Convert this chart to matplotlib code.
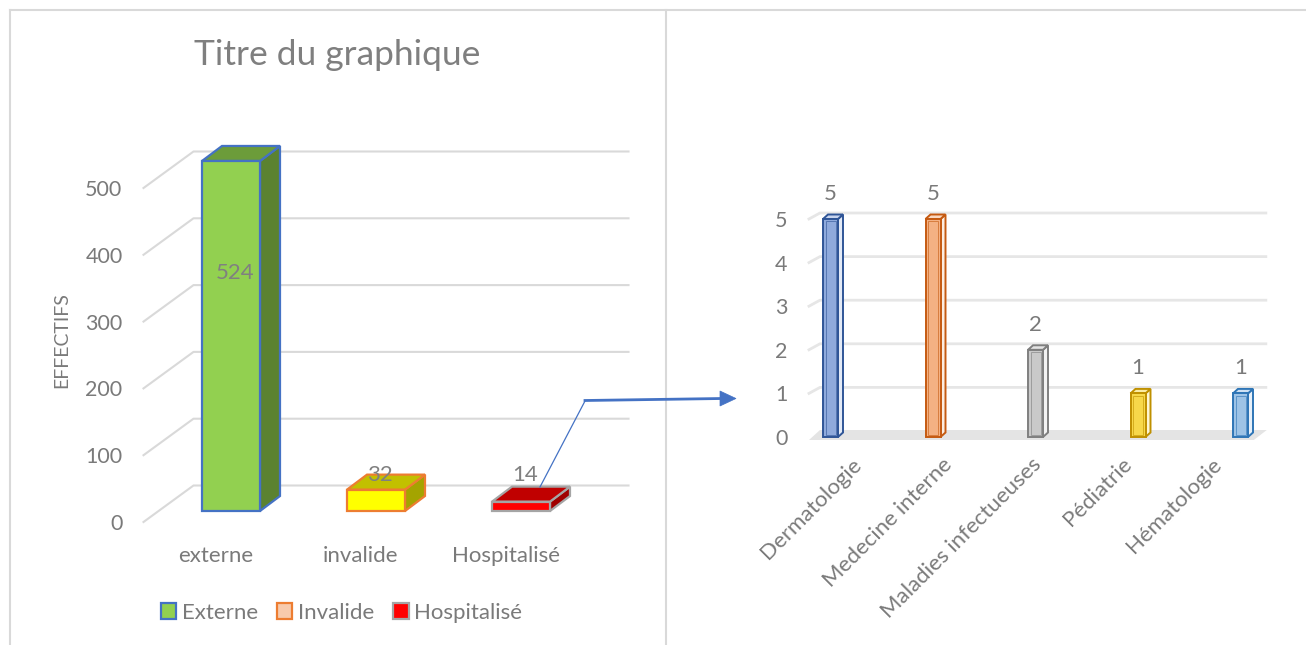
import matplotlib
matplotlib.use("Agg")
import matplotlib.pyplot as plt
from matplotlib.patches import Polygon, Patch
from matplotlib.lines import Line2D

plt.rcParams['font.family'] = ['Lato', 'DejaVu Sans']

# ---------------- data ----------------
left_title = "Titre du graphique"
left_ylabel = "EFFECTIFS"
left_categories = ["externe", "invalide", "Hospitalisé"]
left_values = [524, 32, 14]
left_legend_labels = ["Externe", "Invalide", "Hospitalisé"]
left_yticks = [0, 100, 200, 300, 400, 500]

right_categories = ["Dermatologie", "Medecine interne", "Maladies infectueuses",
                    "Pédiatrie", "Hématologie"]
right_values = [5, 5, 2, 1, 1]
right_yticks = [0, 1, 2, 3, 4, 5]

# ---------------- styles ----------------
left_front = ["#92D050", "#FFFF00", "#FF0000"]
left_top = ["#6C9C3A", "#C2C000", "#C00000"]
left_side = ["#5B8230", "#A4A400", "#A00000"]
left_edge = ["#4472C4", "#ED7D31", "#A5A5A5"]
legend_face = ["#92D050", "#F8CBAD", "#FF0000"]
legend_edge = ["#4472C4", "#ED7D31", "#A5A5A5"]

right_face = ["#8FAADC", "#F4B183", "#C9C9C9", "#F7D84A", "#9DC3E6"]
right_edge = ["#2F5597", "#C55A11", "#7F7F7F", "#BF9000", "#2E75B6"]

TC = "#7A7A7A"
GRID = "#D9D9D9"
W, H = 1306, 645
PT = 72 / 100.0  # points per pixel

fig = plt.figure(figsize=(W / 100, H / 100), dpi=100)


def lighten(c, f):
    r, g, b = matplotlib.colors.to_rgb(c)
    return (r + (1 - r) * f, g + (1 - g) * f, b + (1 - b) * f)


def make_off(ppx, ppy):
    def off(x, y, dxp, dyp):
        return (x + dxp / ppx, y + dyp / ppy)
    return off


# ================= LEFT CHART =================
L_ppx, L_ppy = 145.0, 0.668
axL = fig.add_axes([143.5 / W, 123 / H, 3 * L_ppx / W, 600 * L_ppy / H])
axL.set_xlim(-0.5, 2.5)
axL.set_ylim(0, 600)
axL.patch.set_visible(False)
for s in axL.spines.values():
    s.set_visible(False)
offL = make_off(L_ppx, L_ppy)

# gridlines with 3D depth
for v in left_yticks:
    p0 = (-0.5, v)
    p1 = offL(-0.5, v, 50, 36.5)
    p2 = offL(2.5, v, 50, 36.5)
    axL.plot([p0[0], p1[0], p2[0]], [p0[1], p1[1], p2[1]], color=GRID,
             lw=1.5, clip_on=False, zorder=1)

# 3D bars
for i, v in enumerate(left_values):
    xc, y0 = offL(i, 0, 15, 11)
    x0, x1 = xc - 0.2, xc + 0.2
    y1 = y0 + v
    front = [(x0, y0), (x1, y0), (x1, y1), (x0, y1)]
    side = [(x1, y0), offL(x1, y0, 20, 15), offL(x1, y1, 20, 15), (x1, y1)]
    top = [(x0, y1), (x1, y1), offL(x1, y1, 20, 15), offL(x0, y1, 20, 15)]
    for poly, fc in ((side, left_side[i]), (top, left_top[i]), (front, left_front[i])):
        axL.add_patch(Polygon(poly, closed=True, facecolor=fc, edgecolor=left_edge[i],
                              lw=1.6, joinstyle='miter', clip_on=False, zorder=3))
    hpx = v * L_ppy
    lab_px = hpx * 0.68 if hpx > 100 else max(hpx + 12, 36)
    axL.annotate(str(v), xy=(xc, y0), xytext=(4 * PT, lab_px * PT),
                 textcoords='offset points', ha='center', va='center',
                 fontsize=16, color="#808080", zorder=5, annotation_clip=False)

axL.set_yticks(left_yticks)
axL.set_xticks(range(len(left_categories)))
axL.set_xticklabels(left_categories)
axL.tick_params(axis='y', length=0, pad=21 * PT, labelsize=15.5, labelcolor=TC)
axL.tick_params(axis='x', length=0, pad=24 * PT, labelsize=16, labelcolor=TC)

fig.text(337 / W, 1 - 55 / H, left_title, ha='center', va='center',
         fontsize=25.5, color="#7F7F7F")
fig.text(62 / W, 1 - 340 / H, left_ylabel, ha='center', va='center',
         rotation=90, fontsize=14, color=TC)

handles = [Patch(facecolor=f, edgecolor=e, lw=1.6) for f, e in zip(legend_face, legend_edge)]
fig.legend(handles, left_legend_labels, loc='center', bbox_to_anchor=(341.5 / W, 1 - 613 / H),
           ncol=3, frameon=False, fontsize=16, handlelength=0.7, handleheight=0.7,
           handletextpad=0.25, columnspacing=0.85, labelcolor=TC)

# ================= RIGHT CHART =================
R_ppx, R_ppy = 102.5, 43.6
axR = fig.add_axes([779.25 / W, 208 / H, 5 * R_ppx / W, 5.5 * R_ppy / H])
axR.set_xlim(-0.5, 4.5)
axR.set_ylim(0, 5.5)
axR.patch.set_visible(False)
for s in axR.spines.values():
    s.set_visible(False)
offR = make_off(R_ppx, R_ppy)

gx0, gx1 = -0.21, 4.13
floor = [offR(gx0, 0, 0, -3), offR(gx1, 0, 0, -3), offR(gx1, 0, 13, 7), offR(gx0, 0, 11, 7)]
axR.add_patch(Polygon(floor, closed=True, facecolor="#E4E4E4", edgecolor="none",
                      clip_on=False, zorder=1))
for v in right_yticks[1:]:
    p0 = (gx0, v)
    p1 = offR(gx0, v, 11, 6)
    p2 = offR(gx1 + 0.01, v, 11, 6)
    axR.plot([p0[0], p1[0], p2[0]], [p0[1], p1[1], p2[1]], color="#E6E6E6",
             lw=2, clip_on=False, zorder=1)

hw = 7.5 / R_ppx
for i, v in enumerate(right_values):
    x0, x1 = i - hw, i + hw
    y0, y1 = 0, v
    ec = right_edge[i]
    fc = right_face[i]
    front = [(x0, y0), (x1, y0), (x1, y1), (x0, y1)]
    side = [(x1, y0), offR(x1, y0, 5, 4.5), offR(x1, y1, 5, 4.5), (x1, y1)]
    top = [(x0, y1), (x1, y1), offR(x1, y1, 5, 4.5), offR(x0, y1, 5, 4.5)]
    for poly, f in ((side, lighten(fc, 0.75)), (top, lighten(fc, 0.5)), (front, fc)):
        axR.add_patch(Polygon(poly, closed=True, facecolor=f, edgecolor=ec, lw=1.4,
                              joinstyle='miter', clip_on=False, zorder=3))
    inner = [offR(x0, y0, 2.5, 2.5), offR(x1, y0, -2.5, 2.5), offR(x1, y1, -2.5, -2.5),
             offR(x0, y1, 2.5, -2.5)]
    axR.add_patch(Polygon(inner, closed=True, facecolor='none', edgecolor=ec, lw=0.7,
                          alpha=0.6, clip_on=False, zorder=4))
    axR.annotate(str(v), xy=(i, v), xytext=(0, 25 * PT), textcoords='offset points',
                 ha='center', va='center', fontsize=16, color=TC, annotation_clip=False)
    axR.annotate(right_categories[i], xy=(i, 0), xytext=((21 - 12.5 * i) * PT, -17 * PT),
                 textcoords='offset points', ha='right', va='top', rotation=45,
                 rotation_mode='anchor', fontsize=16, color=TC, annotation_clip=False)

axR.set_xticks([])
axR.set_yticks(right_yticks)
axR.tick_params(axis='y', length=0, pad=-8 * PT, labelsize=15.5, labelcolor=TC)

# ================= frame lines & connector arrow =================
def fline(xs, ys, **kw):
    fig.add_artist(Line2D([x / W for x in xs], [1 - y / H for y in ys],
                          transform=fig.transFigure, **kw))

fline([10, W], [10, 10], color=GRID, lw=1.5)
fline([10, 10], [10, H], color=GRID, lw=1.5)
fline([665.5, 665.5], [10, H], color=GRID, lw=1.5)

ARROW = "#4472C4"
fline([540, 585], [487, 401], color=ARROW, lw=0.9)
fline([585, 722], [400.5, 398.5], color=ARROW, lw=2.0)
fig.add_artist(Polygon([(720 / W, 1 - 391 / H), (736 / W, 1 - 398.5 / H), (720 / W, 1 - 406 / H)],
                       closed=True, transform=fig.transFigure, facecolor=ARROW,
                       edgecolor=ARROW, lw=0.5))

fig.savefig("out.png", dpi=100)
